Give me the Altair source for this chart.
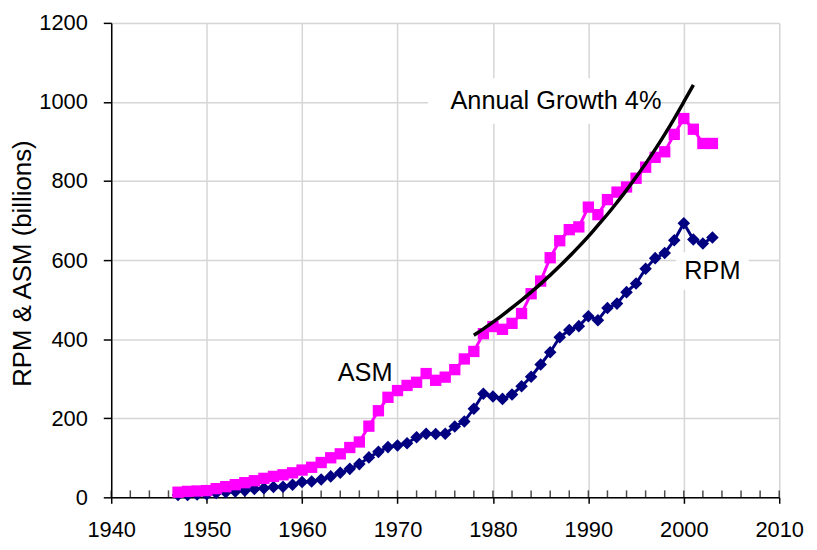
import altair as alt
import pandas as pd

years = list(range(1947, 2004))
asm = [13, 15, 16, 17, 22, 27, 32, 37, 42, 48, 53, 57, 62, 69,
       76, 88, 100, 110, 126, 140, 180, 219, 253, 270,
       283, 291, 313, 296, 304, 323, 350, 369, 414, 432,
       425, 440, 465, 515, 547, 606, 649, 677, 684, 734,
       715, 753, 772, 785, 807, 835, 860, 874, 918, 958,
       931, 895, 895]
rpm = [6, 6, 7, 8, 11, 13, 15, 17, 21, 23, 26, 27, 32, 39,
       40, 45, 53, 62, 72, 84, 101, 115, 127, 131,
       137, 152, 161, 160, 161, 179, 192, 224, 262, 255,
       249, 260, 281, 305, 336, 367, 405, 423, 433, 458,
       448, 479, 490, 519, 541, 578, 605, 618, 650, 693,
       652, 642, 657]
trend_years = list(range(1978, 2002))
trend = [410, 426, 443, 461, 480, 499, 519, 540, 562, 585, 609, 634,
         660, 688, 716, 746, 777, 810, 844, 880, 918, 958, 1000, 1043]

label_text = ["ASM", "RPM", "Annual Growth 4%"]
label_year = [1966.6, 2003.0, 1986.6]
label_value = [315, 572, 1003]

box_x1 = [1973.2, 1999.2]
box_x2 = [1997.4, 2006.8]
box_y1 = [945, 525]
box_y2 = [1060, 620]

minor_years = list(range(1940, 2011, 2))

FONT = "Liberation Sans"

df = pd.DataFrame({"year": years, "ASM": asm, "RPM": rpm})
tdf = pd.DataFrame({"year": trend_years, "value": trend})
ldf = pd.DataFrame({"text": label_text, "year": label_year, "value": label_value})
bdf = pd.DataFrame({"x1": box_x1, "x2": box_x2, "y1": box_y1, "y2": box_y2})
mdf = pd.DataFrame({"year": minor_years, "base": [0] * len(minor_years)})

xscale = alt.Scale(domain=[1940, 2010], nice=False, zero=False)
yscale = alt.Scale(domain=[0, 1200], nice=False)

xaxis = alt.Axis(values=list(range(1940, 2011, 10)), format="d", title=None,
                 grid=True, gridColor="#d6d6d6", gridWidth=1.5,
                 domainColor="black", domainWidth=1.5, tickColor="black",
                 tickWidth=1.5, tickSize=6, labelPadding=16, labelFlush=False,
                 labelFont=FONT, labelFontSize=22, labelColor="black",
                 orient="bottom")
yaxis = alt.Axis(values=list(range(0, 1201, 200)), format="d",
                 title="RPM & ASM (billions)",
                 grid=True, gridColor="#d6d6d6", gridWidth=1.5,
                 domainColor="black", domainWidth=1.5, tickColor="black",
                 tickWidth=1.5, tickSize=8, labelPadding=16, labelFlush=False,
                 labelFont=FONT, labelFontSize=22, labelColor="black",
                 titleFont=FONT, titleFontSize=26, titleFontWeight="normal",
                 titleColor="black", titleX=-89, titleY=242,
                 titleAngle=270, titleAlign="center", titleBaseline="middle")

X = lambda f: alt.X(f, scale=xscale, axis=xaxis)
Y = lambda f: alt.Y(f, scale=yscale, axis=yaxis)

boxes = alt.Chart(bdf).mark_rect(color="white").encode(
    x=X("x1:Q"), x2="x2:Q", y=Y("y1:Q"), y2="y2:Q")

minor_ticks = alt.Chart(mdf).mark_tick(
    orient="vertical", color="black", thickness=1.5, size=7, yOffset=-3.5
).encode(x=X("year:Q"), y=Y("base:Q"))

asm_line = alt.Chart(df).mark_line(
    color="#FF00FF", strokeWidth=3,
    point=alt.OverlayMarkDef(shape="square", size=130, color="#FF00FF", filled=True, opacity=1),
).encode(x=X("year:Q"), y=Y("ASM:Q"))

rpm_line = alt.Chart(df).mark_line(
    color="#000080", strokeWidth=3,
    point=alt.OverlayMarkDef(shape="diamond", size=160, color="#000080", filled=True, opacity=1),
).encode(x=X("year:Q"), y=Y("RPM:Q"))

trend_line = alt.Chart(tdf).mark_line(color="black", strokeWidth=3.5, interpolate="monotone").encode(
    x=X("year:Q"), y=Y("value:Q"))

labels = alt.Chart(ldf).mark_text(font=FONT, fontSize=25.5, color="black",
                                  align="center", baseline="middle").encode(
    x=X("year:Q"), y=Y("value:Q"), text="text:N")

chart = alt.layer(boxes, minor_ticks, rpm_line, asm_line, trend_line, labels).properties(
    width=673, height=478,
    autosize=alt.AutoSizeParams(type="none"),
    padding={"left": 104, "top": 13, "right": 30, "bottom": 42},
).configure_view(stroke="#7f7f7f", strokeWidth=1.5).configure(background="white")

chart.save("out.html", embed_options={"renderer": "svg", "actions": False})
